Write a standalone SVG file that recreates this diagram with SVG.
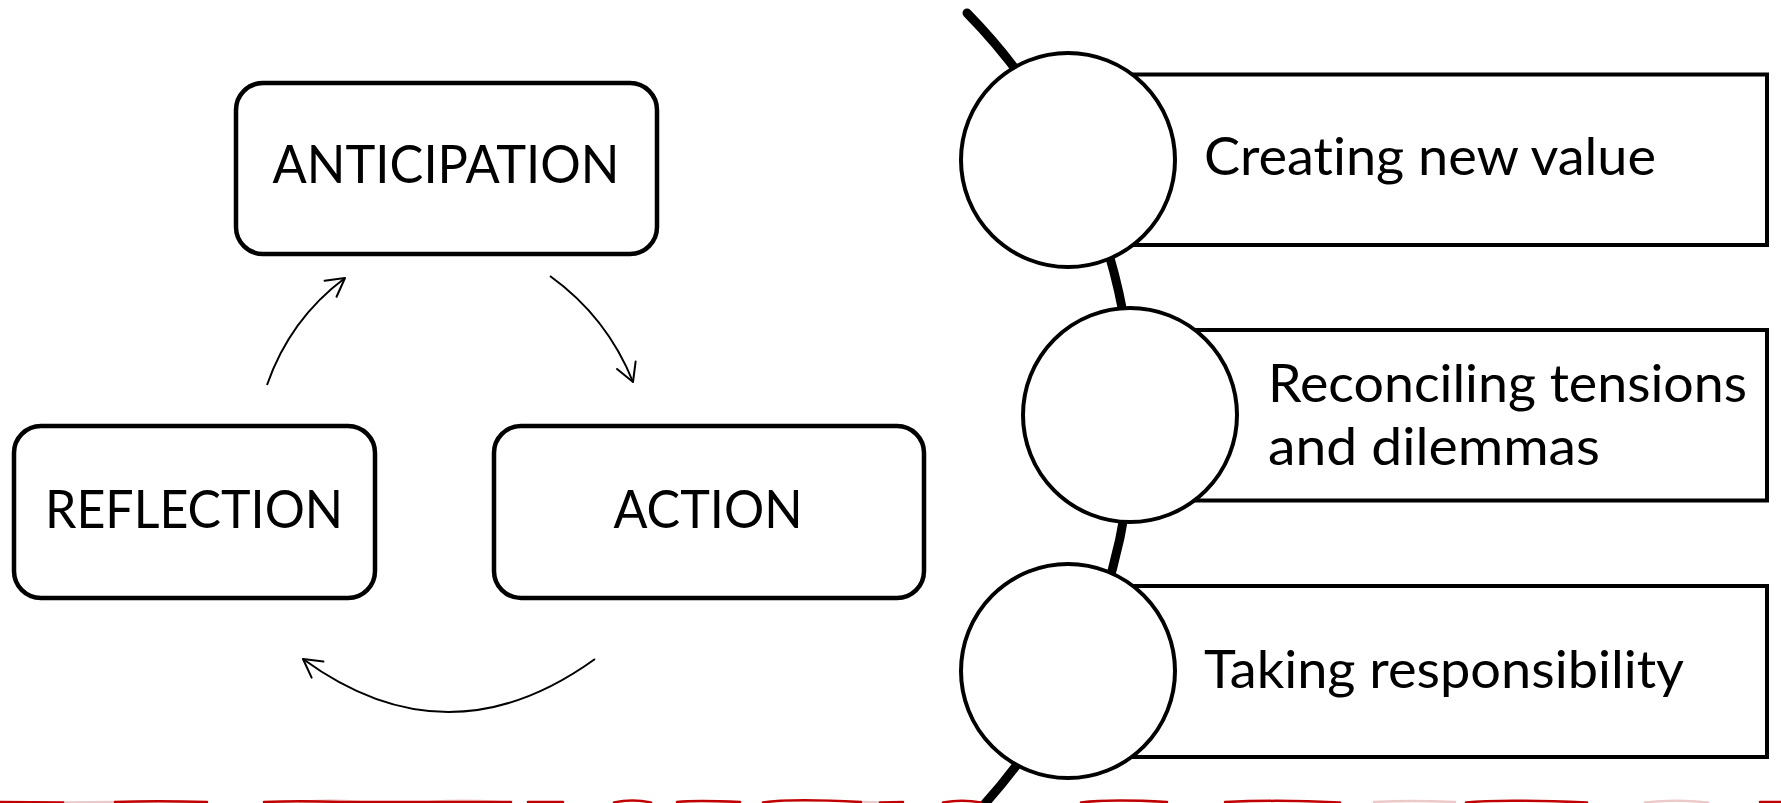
<svg xmlns="http://www.w3.org/2000/svg" width="1781" height="803" viewBox="0 0 1781 803">
  <defs>
    <style>
      .box { fill: #ffffff; stroke: #000000; stroke-width: 4.5; }
      .band { fill: #ffffff; stroke: #000000; stroke-width: 4; }
      .bead { fill: #ffffff; stroke: #000000; stroke-width: 4; }
      .label { font-family: "Lato", "Open Sans", "Liberation Sans", sans-serif; font-size: 52px; fill: #000000; font-variant-ligatures: none; }
      .flow { fill: none; stroke: #000000; stroke-width: 2; }
      .spine { fill: none; stroke: #000000; stroke-width: 9; stroke-linecap: round; }
      .ink { fill: none; stroke: #c00000; stroke-width: 2.5; stroke-linecap: round; }
      .ink-faint { fill: none; stroke: #eccaca; stroke-width: 2.5; stroke-linecap: round; }
    </style>
    <marker id="open-arrow" markerUnits="userSpaceOnUse" markerWidth="30" markerHeight="30" viewBox="-24 -14 30 28" refX="0" refY="0" orient="auto">
      <path d="M -18,-10 L 0,0 L -18,10" fill="none" stroke="#000000" stroke-width="2" stroke-linecap="round" stroke-linejoin="round"/>
    </marker>
  </defs>

  <rect x="0" y="0" width="1781" height="803" fill="#ffffff"/>

  <!-- cycle: anticipation, action, reflection -->
  <g id="node-anticipation">
    <rect class="box" x="236" y="83" width="421" height="171" rx="27" ry="27"/>
    <text class="label" x="446" y="183" text-anchor="middle" textLength="347" lengthAdjust="spacingAndGlyphs">ANTICIPATION</text>
  </g>
  <g id="node-reflection">
    <rect class="box" x="14" y="426" width="361" height="172" rx="27" ry="27"/>
    <text class="label" x="194" y="528" text-anchor="middle" textLength="298" lengthAdjust="spacingAndGlyphs">REFLECTION</text>
  </g>
  <g id="node-action">
    <rect class="box" x="494" y="426" width="430" height="172" rx="27" ry="27"/>
    <text class="label" x="708" y="528" text-anchor="middle" textLength="189" lengthAdjust="spacingAndGlyphs">ACTION</text>
  </g>

  <g id="connectors">
    <path class="flow" d="M 267,385 Q 290,319 345,278" marker-end="url(#open-arrow)"/>
    <path class="flow" d="M 550,276 Q 607,317 633,382" marker-end="url(#open-arrow)"/>
    <path class="flow" d="M 595,659 Q 448,765 303,659" marker-end="url(#open-arrow)"/>
  </g>

  <!-- curved spine threading the three beads -->
  <g id="spine">
    <path class="spine" d="M 967,13 A 578 578 0 0 1 981,808"/>
  </g>

  <g id="node-creating-new-value">
    <rect class="band" x="1068" y="74.5" width="699" height="170.5"/>
    <circle class="bead" cx="1068" cy="160" r="107"/>
    <text class="label" x="1204" y="175" textLength="452" lengthAdjust="spacingAndGlyphs">Creating new value</text>
  </g>
  <g id="node-reconciling-tensions">
    <rect class="band" x="1130" y="330" width="637" height="170.5"/>
    <circle class="bead" cx="1130" cy="415" r="107"/>
    <text class="label" x="1268" y="402" textLength="479" lengthAdjust="spacingAndGlyphs">Reconciling tensions</text>
    <text class="label" x="1268" y="465" textLength="332" lengthAdjust="spacingAndGlyphs">and dilemmas</text>
  </g>
  <g id="node-taking-responsibility">
    <rect class="band" x="1068" y="586" width="699" height="171"/>
    <circle class="bead" cx="1068" cy="671" r="107"/>
    <text class="label" x="1204" y="688" textLength="480" lengthAdjust="spacingAndGlyphs">Taking responsibility</text>
  </g>

  <!-- red hand-drawn rule along the bottom edge -->
  <g id="bottom-rule">
    <path class="ink-faint" d="M 63,802.5 L 115,802"/>
    <path class="ink-faint" d="M 300,802 Q 330,799 360,802"/>
    <path class="ink-faint" d="M 430,802 Q 460,799.5 500,802"/>
    <path class="ink-faint" d="M 861,802 L 880,802.5"/>
    <path class="ink-faint" d="M 1374,802 Q 1410,800 1455,802"/>
    <path class="ink-faint" d="M 1645,802.5 Q 1675,799 1708,802.5"/>
    <path class="ink" d="M 0,802 L 63,802.5"/>
    <path class="ink" d="M 115,802 Q 155,800.5 207,802"/>
    <path class="ink" d="M 264,802 Q 300,800.5 340,802 L 511,802"/>
    <path class="ink" d="M 528,802 L 563,802"/>
    <path class="ink" d="M 614,802.5 Q 632,798.5 651,802.5"/>
    <path class="ink" d="M 677,802 Q 695,800 740,802"/>
    <path class="ink" d="M 763,802.5 Q 790,798.5 861,802"/>
    <path class="ink" d="M 880,802.5 L 903,802"/>
    <path class="ink" d="M 943,802.5 Q 962,799 981,802.5"/>
    <path class="ink" d="M 1081,802.5 Q 1110,799 1167,802"/>
    <path class="ink" d="M 1225,802 Q 1280,799.5 1340,802.5"/>
    <path class="ink" d="M 1466,802.5 Q 1500,799 1587,802.5"/>
    <path class="ink" d="M 1760,802 L 1781,802"/>
  </g>
</svg>
